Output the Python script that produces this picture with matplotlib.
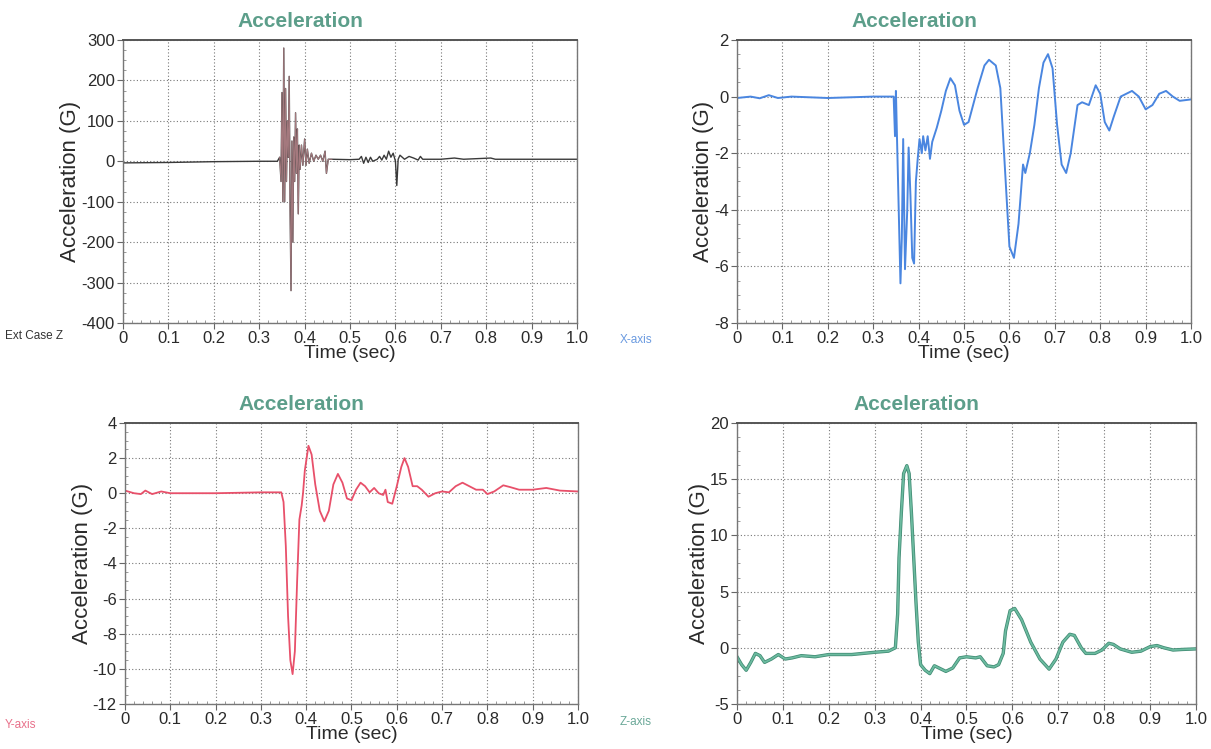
import matplotlib
matplotlib.use("Agg")
import matplotlib.pyplot as plt
from matplotlib.ticker import MultipleLocator, AutoMinorLocator

plt.rcParams['font.family'] = ['Liberation Sans', 'DejaVu Sans']
plt.rcParams['axes.unicode_minus'] = False

# Ext Case Z (raw, noisy)
t_case = [0, 0.1, 0.2, 0.3, 0.34, 0.345, 0.348, 0.350, 0.352, 0.354, 0.356, 0.358, 0.36, 0.362,
          0.364, 0.366, 0.368, 0.37, 0.372, 0.374, 0.376, 0.378, 0.38, 0.382, 0.384, 0.386, 0.388,
          0.39, 0.393, 0.396, 0.4, 0.403, 0.406, 0.41, 0.415, 0.42, 0.425, 0.43, 0.435, 0.44, 0.445,
          0.448, 0.452, 0.46, 0.5, 0.52, 0.525, 0.53, 0.535, 0.54, 0.545, 0.55, 0.56, 0.565, 0.57,
          0.575, 0.58, 0.585, 0.59, 0.595, 0.6, 0.603, 0.606, 0.61, 0.62, 0.63, 0.64, 0.65, 0.655,
          0.66, 0.7, 0.73, 0.75, 0.81, 0.82, 1.0]
a_case = [-4, -3, -1, 0, 0, 10, -50, 170, -100, 280, -100, 180, -50, 100,
          10, 210, -120, -320, 50, -200, 60, -50, 120, -30, 80, -130, 40,
          -20, 40, -10, 55, -10, 30, -5, 20, 0, 15, 5, 15, 0, 25,
          -30, 5, 5, 4, 5, 12, -5, 10, -3, 10, 0, 5, 12, 3,
          15, 5, 25, 10, 20, 0, -60, 5, 15, 5, 12, 8, 3, 12,
          5, 5, 8, 5, 8, 5, 5]

# X-axis
t_x = [0, 0.03, 0.05, 0.07, 0.09, 0.12, 0.2, 0.3, 0.345, 0.348, 0.350, 0.352, 0.355, 0.36,
       0.363, 0.366, 0.37, 0.375, 0.378, 0.382, 0.386, 0.39, 0.394, 0.398, 0.402, 0.407, 0.41,
       0.415, 0.42, 0.425, 0.43, 0.44, 0.45, 0.46, 0.47, 0.48, 0.49, 0.5, 0.51, 0.52, 0.53,
       0.545, 0.555, 0.57, 0.58, 0.59, 0.6, 0.61, 0.62, 0.63, 0.635, 0.645, 0.655, 0.665, 0.675,
       0.685, 0.695, 0.705, 0.715, 0.725, 0.735, 0.75, 0.76, 0.775, 0.79, 0.8, 0.81, 0.82, 0.83,
       0.845, 0.87, 0.885, 0.9, 0.915, 0.93, 0.945, 0.96, 0.975, 1.0]
a_x = [-0.05, 0, -0.06, 0.05, -0.05, 0, -0.05, 0, 0, -1.4, 0.2, -1.2, -3.2, -6.6,
       -5.0, -1.5, -6.1, -4.0, -1.8, -3.5, -5.7, -5.9, -3.0, -2.2, -1.5, -2.0, -1.4,
       -1.9, -1.4, -2.2, -1.6, -1.1, -0.5, 0.2, 0.65, 0.4, -0.5, -1.0, -0.9, -0.3, 0.3,
       1.1, 1.3, 1.1, 0.3, -2.5, -5.3, -5.7, -4.5, -2.4, -2.7, -2.0, -1.0, 0.3, 1.2,
       1.5, 1.0, -1.0, -2.4, -2.7, -2.0, -0.3, -0.2, -0.3, 0.4, 0.1, -0.9, -1.2, -0.7,
       0, 0.2, 0, -0.45, -0.3, 0.1, 0.2, 0, -0.15, -0.1]

# Y-axis
t_y = [0, 0.02, 0.035, 0.045, 0.06, 0.08, 0.1, 0.2, 0.3, 0.345, 0.35, 0.355, 0.36, 0.365,
       0.37, 0.375, 0.38, 0.385, 0.39, 0.393, 0.397, 0.405, 0.412, 0.42, 0.43, 0.44, 0.45,
       0.46, 0.47, 0.48, 0.49, 0.5, 0.51, 0.52, 0.53, 0.54, 0.55, 0.56, 0.57, 0.575, 0.58,
       0.59, 0.6, 0.61, 0.617, 0.625, 0.635, 0.645, 0.655, 0.67, 0.685, 0.7, 0.715, 0.73,
       0.745, 0.76, 0.775, 0.79, 0.8, 0.815, 0.835, 0.85, 0.87, 0.9, 0.93, 0.96, 1.0]
a_y = [0.15, 0, -0.05, 0.15, -0.05, 0.1, 0, 0, 0.05, 0.05, -0.5, -3.0, -7.0, -9.5,
       -10.3, -9.0, -5.0, -1.5, -0.7, 0, 1.3, 2.7, 2.2, 0.5, -1.0, -1.6, -1.0,
       0.5, 1.1, 0.6, -0.3, -0.4, 0.2, 0.6, 0.4, 0.05, 0.3, 0, -0.1, 0.2, -0.5,
       -0.6, 0.4, 1.5, 2.0, 1.5, 0.4, 0.4, 0.2, -0.2, 0, 0.1, 0.05, 0.4,
       0.6, 0.4, 0.2, 0.2, -0.05, 0.1, 0.45, 0.35, 0.2, 0.2, 0.3, 0.15, 0.1]

# Z-axis
t_z = [0, 0.01, 0.02, 0.03, 0.04, 0.05, 0.06, 0.075, 0.09, 0.105, 0.12, 0.14, 0.17, 0.2,
       0.25, 0.3, 0.33, 0.345, 0.35, 0.353, 0.358, 0.363, 0.37, 0.375, 0.38, 0.385, 0.39,
       0.395, 0.4, 0.41, 0.42, 0.43, 0.44, 0.455, 0.47, 0.485, 0.5, 0.52, 0.53, 0.545, 0.56,
       0.57, 0.58, 0.585, 0.595, 0.605, 0.62, 0.64, 0.66, 0.68, 0.695, 0.71, 0.725, 0.735,
       0.75, 0.76, 0.78, 0.795, 0.81, 0.82, 0.835, 0.86, 0.88, 0.9, 0.915, 0.93, 0.95, 0.97, 1.0]
a_z = [-0.8, -1.5, -2.0, -1.3, -0.5, -0.7, -1.3, -1.0, -0.6, -1.0, -0.9, -0.7, -0.8, -0.6,
       -0.6, -0.4, -0.3, 0, 3.0, 8.0, 12.0, 15.5, 16.2, 15.5, 12.0, 8.0, 4.0,
       0.5, -1.5, -2.0, -2.3, -1.6, -1.8, -2.1, -1.8, -0.9, -0.8, -0.9, -0.8, -1.6, -1.7,
       -1.5, -0.5, 1.5, 3.3, 3.5, 2.5, 0.5, -1.0, -1.9, -1.0, 0.5, 1.2, 1.1,
       0, -0.5, -0.5, -0.2, 0.4, 0.3, -0.1, -0.4, -0.3, 0.1, 0.2, 0, -0.2, -0.15, -0.1]

title_color = '#5c9e8a'


def setup_axes(ax, ylim, ystep):
    ax.set_xlim(0, 1.0)
    ax.set_ylim(*ylim)
    ax.xaxis.set_major_locator(MultipleLocator(0.1))
    ax.yaxis.set_major_locator(MultipleLocator(ystep))
    ax.xaxis.set_minor_locator(AutoMinorLocator(5))
    ax.yaxis.set_minor_locator(AutoMinorLocator(4))
    ax.xaxis.set_major_formatter(plt.FuncFormatter(lambda v, p: '0' if abs(v) < 1e-9 else f'{v:.1f}'))
    ax.grid(True, which='major', color='#777777', linestyle=(0, (1, 2)), linewidth=0.8)
    ax.tick_params(which='major', length=4, width=0.8, color='#666666', labelsize=12,
                   labelcolor='#2a2a2a', pad=2)
    ax.tick_params(which='minor', direction='in', length=2.5, width=0.6, color='#888888')
    for s in ax.spines.values():
        s.set_color('#777777')
        s.set_linewidth(1.0)
    ax.spines['top'].set_color('#555555')
    ax.spines['top'].set_linewidth(1.4)
    ax.set_xlabel('Time (sec)', fontsize=14, color='#2a2a2a', labelpad=-1)
    ax.set_ylabel('Acceleration (G)', fontsize=16, color='#2a2a2a', labelpad=0)
    ax.set_title('Acceleration', fontsize=15, fontweight='bold', color=title_color, pad=9, x=0.39)


fig = plt.figure(figsize=(12.11, 7.49), dpi=100)

ax1 = fig.add_axes([0.1016, 0.5688, 0.3749, 0.3778])
ax1.plot(t_case, a_case, color='#3a3a3a', linewidth=1.0)
ax1.plot(t_case[5:44], a_case[5:44], color='#c08a90', linewidth=0.7, alpha=0.8)
setup_axes(ax1, (-400, 300), 100)

ax2 = fig.add_axes([0.6086, 0.5688, 0.3749, 0.3778])
ax2.plot(t_x, a_x, color='#4a86e0', linewidth=1.4)
setup_axes(ax2, (-8, 2), 2)

ax3 = fig.add_axes([0.1032, 0.0601, 0.3741, 0.3752])
ax3.plot(t_y, a_y, color='#e8506a', linewidth=1.3)
setup_axes(ax3, (-12, 4), 2)

ax4 = fig.add_axes([0.6086, 0.0601, 0.379, 0.3752])
ax4.plot(t_z, a_z, color='#3f8a72', linewidth=2.4)
ax4.plot(t_z, a_z, color='#6cbba0', linewidth=1.3)
setup_axes(ax4, (-5, 20), 5)

fig.text(5 / 1211, 1 - 336 / 749, 'Ext Case Z', fontsize=8.5, color='#333333', va='center')
fig.text(620 / 1211, 1 - 340 / 749, 'X-axis', fontsize=8.5, color='#6a9ae0', va='center')
fig.text(5 / 1211, 1 - 725 / 749, 'Y-axis', fontsize=8.5, color='#e8708a', va='center')
fig.text(620 / 1211, 1 - 722 / 749, 'Z-axis', fontsize=8.5, color='#6aa898', va='center')

fig.savefig('out.png', dpi=100, facecolor='white')
